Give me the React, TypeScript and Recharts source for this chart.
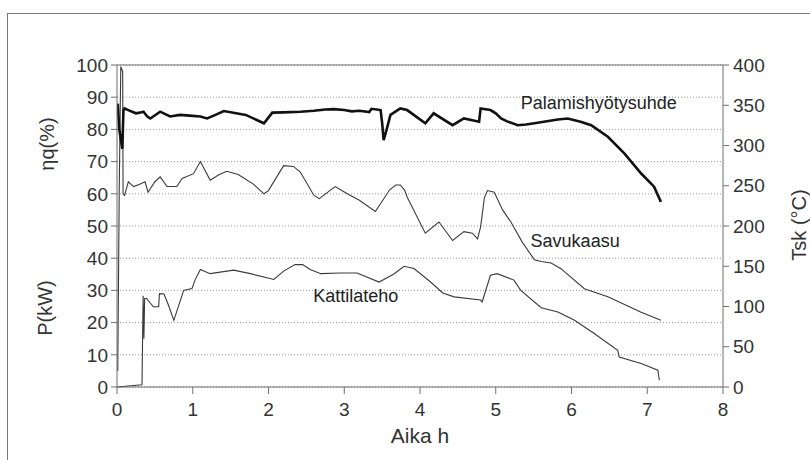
import {
  LineChart,
  Line,
  XAxis,
  YAxis,
  CartesianGrid,
  ReferenceLine,
  ReferenceDot,
} from "recharts";

// Aika (h) and values for each measured quantity
const hyotysuhdeAika = [
  0.01, 0.03, 0.05, 0.07, 0.085, 0.1, 0.15, 0.2, 0.25, 0.3, 0.35, 0.4, 0.44,
  0.57, 0.7, 0.83, 1.0, 1.1, 1.19, 1.3, 1.41, 1.7, 1.94, 2.05, 2.2, 2.42, 2.6,
  2.75, 2.86, 3.0, 3.1, 3.2, 3.33, 3.36, 3.48, 3.5, 3.52, 3.56, 3.61, 3.74,
  3.83, 4.07, 4.18, 4.43, 4.58, 4.78, 4.8, 4.93, 5.0, 5.07, 5.15, 5.29, 5.4,
  5.51, 5.82, 5.95, 6.12, 6.26, 6.48, 6.7, 6.92, 7.09, 7.18,
];
const hyotysuhde = [
  88, 80, 77, 74, 86, 86.5, 86, 85.5, 85, 85.2, 85.5, 84, 83.4, 85.5, 84,
  84.5, 84.2, 84, 83.4, 84.5, 85.7, 84.5, 81.9, 85.2, 85.3, 85.5, 85.8, 86.2,
  86.3, 86, 85.6, 85.8, 85.4, 86.4, 86, 82, 76.7, 80, 84.5, 86.5, 86, 81.9, 85,
  81.3, 83.4, 82.4, 86.5, 86, 85, 83.4, 82.5, 81.3, 81.5, 81.9, 83.1, 83.4,
  82.4, 81.3, 77.7, 72.5, 66.3, 62.2, 57.5,
];

const savukaasuAika = [
  0.01, 0.03, 0.05, 0.075, 0.08, 0.1, 0.15, 0.22, 0.3, 0.37, 0.41, 0.5, 0.57,
  0.66, 0.79, 0.86, 1.01, 1.1, 1.23, 1.35, 1.45, 1.6, 1.8, 1.94, 2.0, 2.05,
  2.2, 2.33, 2.42, 2.6, 2.67, 2.88, 3.04, 3.2, 3.41, 3.48, 3.6, 3.68, 3.74,
  3.8, 3.83, 4.07, 4.25, 4.43, 4.58, 4.69, 4.76, 4.8, 4.85, 4.89, 4.98, 5.03,
  5.09, 5.2, 5.35, 5.51, 5.6, 5.73, 5.86, 6.17, 6.48, 6.92, 7.18,
];
const savukaasu = [
  20, 250, 398, 392, 240, 238, 255, 249, 252, 255, 242, 255, 261, 249, 249,
  259, 265, 280, 257, 264, 268, 264, 252, 240, 244, 252, 275, 274, 267, 238,
  234, 249, 240, 232, 218, 228, 245, 251, 251, 244, 236, 191, 205, 182, 193,
  191, 184, 199, 235, 244, 242, 232, 220, 205, 180, 158, 156, 154, 147, 122,
  112, 93, 83,
];

const tehoAika = [
  0, 0.15, 0.33, 0.345, 0.355, 0.365, 0.39, 0.48, 0.55, 0.56, 0.62, 0.68,
  0.75, 0.88, 0.99, 1.03, 1.1, 1.23, 1.54, 1.76, 2.07, 2.2, 2.35, 2.45, 2.55,
  2.69, 2.95, 3.17, 3.46, 3.65, 3.79, 3.92, 4.14, 4.3, 4.45, 4.8, 4.82, 4.93,
  5.02, 5.24, 5.33, 5.6, 5.82, 6.04, 6.3, 6.61, 6.63, 6.92, 7.14, 7.16,
];
const teho = [
  0, 0.3, 0.7, 28.3, 15, 27.5, 27.5, 24.9, 24.9, 29, 28.9, 25.4, 20.7, 30,
  30.6, 33.2, 36.5, 35.2, 36.3, 35.2, 33.4, 36, 38, 38, 36.5, 35.2, 35.4, 35.4,
  32.6, 35, 37.5, 36.8, 32.6, 29.2, 28, 27, 26.4, 34.7, 35.2, 33.2, 30, 24.6,
  23.3, 20.7, 16.6, 11.4, 9.3, 7.3, 5.2, 2.1,
];

const xTicks = [0, 1, 2, 3, 4, 5, 6, 7, 8];
const leftTicks = [0, 10, 20, 30, 40, 50, 60, 70, 80, 90, 100];
const rightTicks = [0, 50, 100, 150, 200, 250, 300, 350, 400];

const hyotysuhdeData = hyotysuhdeAika.map((t, i) => ({ t, v: hyotysuhde[i] }));
const savukaasuData = savukaasuAika.map((t, i) => ({ t, v: savukaasu[i] }));
const tehoData = tehoAika.map((t, i) => ({ t, v: teho[i] }));

const FONT = "'Liberation Sans', Arial, Helvetica, sans-serif";
const AXIS = "#6f6f6f";
const TEXT = "#333";

const seriesLabel = (value: string) => ({
  value,
  position: "right" as const,
  offset: 0,
  fill: "#222",
  fontSize: 18,
  fontFamily: FONT,
});

export default function App() {
  return (
    <div
      style={{
        position: "fixed",
        left: 0,
        top: 0,
        width: 810,
        height: 460,
        overflow: "hidden",
        background: "#fff",
        fontFamily: FONT,
      }}
    >
      <div
        style={{
          position: "absolute",
          left: 7,
          top: 13,
          width: 820,
          height: 470,
          border: "1px solid #777",
        }}
      />
      <div style={{ position: "absolute", left: 0, top: 0 }}>
        <LineChart
          width={810}
          height={460}
          margin={{ top: 65, right: 27, bottom: 43, left: 57 }}
        >
          <CartesianGrid
            yAxisId="left"
            vertical={false}
            stroke="#999"
            strokeDasharray="1 2"
          />
          <XAxis
            type="number"
            dataKey="t"
            domain={[0, 8]}
            ticks={xTicks}
            allowDataOverflow
            height={30}
            stroke={AXIS}
            tickSize={7}
            tickMargin={9}
            tick={{ fill: TEXT, fontSize: 19, fontFamily: FONT }}
            label={{
              value: "Aika h",
              position: "bottom",
              offset: 11,
              fill: TEXT,
              fontSize: 21,
              fontFamily: FONT,
            }}
          />
          <YAxis
            yAxisId="left"
            type="number"
            domain={[0, 100]}
            ticks={leftTicks}
            width={60}
            stroke={AXIS}
            tickSize={6}
            tickMargin={3}
            tick={{ fill: TEXT, fontSize: 19, fontFamily: FONT }}
          />
          <YAxis
            yAxisId="right"
            orientation="right"
            type="number"
            domain={[0, 400]}
            ticks={rightTicks}
            width={60}
            stroke={AXIS}
            tickSize={6}
            tickMargin={4}
            tick={{ fill: TEXT, fontSize: 19, fontFamily: FONT }}
          />
          <ReferenceLine yAxisId="left" y={100} stroke={AXIS} />
          <Line
            yAxisId="right"
            data={savukaasuData}
            dataKey="v"
            type="linear"
            stroke="#3a3a3a"
            strokeWidth={1.1}
            dot={false}
            isAnimationActive={false}
          />
          <Line
            yAxisId="left"
            data={tehoData}
            dataKey="v"
            type="linear"
            stroke="#3a3a3a"
            strokeWidth={1.1}
            dot={false}
            isAnimationActive={false}
          />
          <Line
            yAxisId="left"
            data={hyotysuhdeData}
            dataKey="v"
            type="linear"
            stroke="#111"
            strokeWidth={2.6}
            dot={false}
            isAnimationActive={false}
          />
          <ReferenceDot
            yAxisId="left"
            x={5.33}
            y={88.2}
            r={0}
            stroke="none"
            label={seriesLabel("Palamishyötysuhde")}
          />
          <ReferenceDot
            yAxisId="left"
            x={5.46}
            y={45.6}
            r={0}
            stroke="none"
            label={seriesLabel("Savukaasu")}
          />
          <ReferenceDot
            yAxisId="left"
            x={2.59}
            y={28.5}
            r={0}
            stroke="none"
            label={seriesLabel("Kattilateho")}
          />
          <text
            x={47}
            y={144}
            transform="rotate(-90, 47, 144)"
            textAnchor="middle"
            dominantBaseline="central"
            fill={TEXT}
            fontSize={20}
            fontFamily={FONT}
          >
            ηq(%)
          </text>
          <text
            x={45}
            y={308}
            transform="rotate(-90, 45, 308)"
            textAnchor="middle"
            dominantBaseline="central"
            fill={TEXT}
            fontSize={20}
            fontFamily={FONT}
          >
            P(kW)
          </text>
          <text
            x={799}
            y={225}
            transform="rotate(-90, 799, 225)"
            textAnchor="middle"
            dominantBaseline="central"
            fill={TEXT}
            fontSize={20}
            fontFamily={FONT}
          >
            Tsk (°C)
          </text>
        </LineChart>
      </div>
    </div>
  );
}
